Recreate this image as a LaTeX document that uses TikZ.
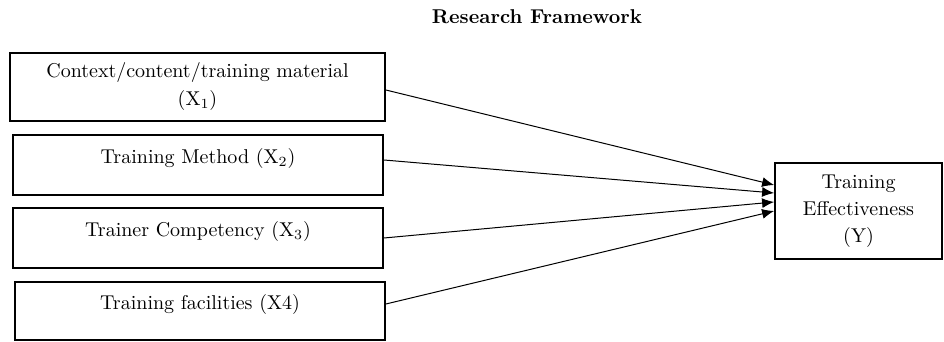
\documentclass[tikz,border=0pt]{standalone}
\usepackage{tikz}
\usetikzlibrary{arrows.meta,positioning}

\begin{document}
\begin{tikzpicture}[
    x=0.5pt, y=-0.5pt,
    factor/.style={rectangle, draw, line width=0.9pt, inner sep=0pt, align=center, minimum width=185pt, minimum height=30pt, text height=7pt, text depth=8pt},
    outcome/.style={rectangle, draw, line width=0.9pt, inner sep=0pt, align=center, minimum width=83.5pt, minimum height=48pt},
    link/.style={-{Latex[length=6pt,width=5pt]}, line width=0.5pt},
]
    \useasboundingbox (0,0) rectangle (944,342);

    % Title
    \node[font=\bfseries] (title) at (537,17) {Research Framework};

    % Independent variables
    \node[factor, minimum width=187.5pt, minimum height=34pt, text height=, text depth=] (x1) at (197.5,87)
        {Context/content/training material\\[2pt](X\textsubscript{1})};
    \node[factor] (x2) at (198,165) {Training Method (X\textsubscript{2})};
    \node[factor] (x3) at (198,238) {Trainer Competency (X\textsubscript{3})};
    \node[factor, minimum height=29pt] (x4) at (200,311) {Training facilities (X4)};

    % Dependent variable
    \node[outcome] (y) at (858.5,211) {Training\\[1.5pt]Effectiveness\\[1.5pt](Y)};

    % Arrows
    \draw[link] ([yshift=-1.5pt]x1.east) -- ([yshift=13pt]y.west);
    \draw[link] ([yshift=2.5pt]x2.east) -- ([yshift=9pt]y.west);
    \draw[link] (x3.east) -- ([yshift=4.5pt]y.west);
    \draw[link] ([yshift=3.5pt]x4.east) -- ([yshift=0pt]y.west);
\end{tikzpicture}
\end{document}
